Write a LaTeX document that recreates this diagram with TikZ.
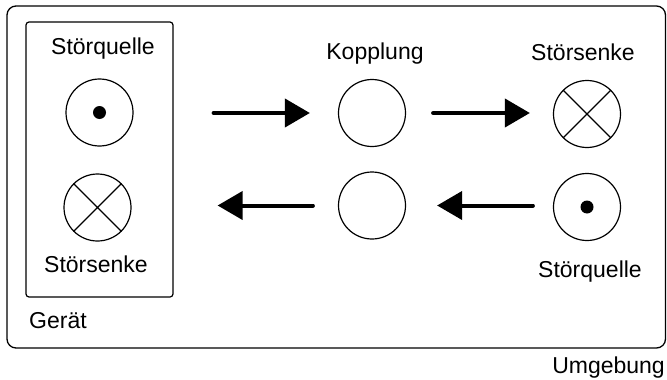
\documentclass[tikz,border=0pt]{standalone}
\usepackage{fontspec}
\setmainfont{Liberation Sans}
\usetikzlibrary{arrows.meta}
\begin{document}
\begin{tikzpicture}[x=1pt,y=-1pt,
  every node/.style={font=\fontsize{23}{27}\selectfont, text=black},
  ring/.style={draw, circle, minimum size=67pt, inner sep=0pt, line width=1.2pt},
  lbl/.style={anchor=base, inner sep=0pt},
  bigarrow/.style={line width=4pt, line cap=round, -{Triangle[length=25pt,width=28pt]}},
  thin/.style={line width=1.2pt}
]
\useasboundingbox (0,0) rectangle (667,380);
% Umgebung frame
\draw[line width=1.3pt, rounded corners=9pt] (7,6) rectangle (665.5,348);
% Geraet box
\node[draw, line width=1.2pt, rounded corners=3pt, minimum width=147pt, minimum height=275pt, inner sep=0pt] (geraet) at (99.5,159.5) {};
% circles
\node[ring] (q1) at (99.5,112.5) {};
\node[ring] (s1) at (97.5,207.5) {};
\node[ring] (k1) at (372,113) {};
\node[ring] (k2) at (372,205.5) {};
\node[ring] (s2) at (587,114) {};
\node[ring] (q2) at (587,207) {};
% dots
\fill (q1.center) circle[radius=6.5pt];
\fill (q2.center) circle[radius=6.5pt];
% crosses
\draw[thin] (s1.north east) -- (s1.south west) (s1.north west) -- (s1.south east);
\draw[thin] (s2.north east) -- (s2.south west) (s2.north west) -- (s2.south east);
% labels
\node[lbl] (lq1) at (103,54) {Störquelle};
\node[lbl] (ls1) at (96,272) {Störsenke};
\node[lbl, anchor=base west] (lg) at (29,328) {Gerät};
\node[lbl] (lk) at (375,59) {Kopplung};
\node[lbl] (ls2) at (583,60) {Störsenke};
\node[lbl] (lq2) at (590,277) {Störquelle};
\node[lbl, anchor=base east] (lu) at (665,373.5) {Umgebung};
% arrows
\draw[bigarrow, shorten <=40pt, shorten >=28pt] (geraet.east |- k1.center) -- (k1.west);
\draw[bigarrow, shorten <=27pt, shorten >=23pt] (k1.east) -- (s2.west |- k1.center);
\draw[bigarrow, shorten <=25pt, shorten >=44pt] (k2.west) -- (geraet.east |- k2.center);
\draw[bigarrow, shorten <=20pt, shorten >=31pt] (q2.west |- k2.center) -- (k2.east);
\end{tikzpicture}
\end{document}
